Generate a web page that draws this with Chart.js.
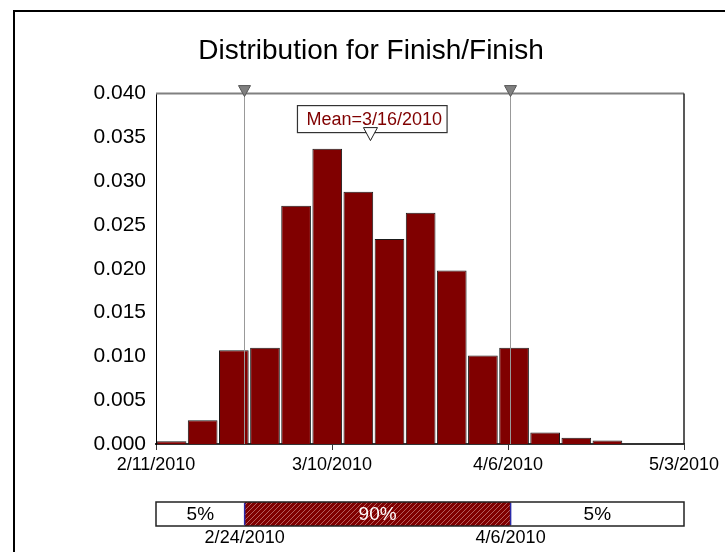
<!DOCTYPE html>
<html>
<head>
<meta charset="utf-8">
<script src="https://cdn.jsdelivr.net/npm/chart.js@4"></script>
<style>
  html, body { margin: 0; padding: 0; background: #fff; overflow: hidden; }
  #wrap { position: relative; width: 725px; height: 552px; overflow: hidden; }
  #frame { position: absolute; left: 13px; top: 10px; width: 800px; height: 600px;
           border-left: 2px solid #000; border-top: 2px solid #000; }
  #myChart { position: absolute; left: 0; top: 0; }
</style>
</head>
<body>
<div id="wrap">
  <div id="frame"></div>
  <canvas id="myChart" width="725" height="552"></canvas>
</div>
<script>
// x values are days after 2/11/2010
let binCenters = [2.39, 7.16, 11.94, 16.72, 21.49, 26.27, 31.04, 35.82, 40.60, 45.37, 50.15, 54.93, 59.70, 64.48, 69.25];
let density = [0.0003, 0.0027, 0.0107, 0.0110, 0.0272, 0.0337, 0.0288, 0.0234, 0.0264, 0.0198, 0.0101, 0.0110, 0.0013, 0.0007, 0.0004];
let xTickLabels = ['2/11/2010', '3/10/2010', '4/6/2010', '5/3/2010'];
let markerDays = [13.6, 54.4];
let markerLabels = ['2/24/2010', '4/6/2010'];
let bandLabels = ['5%', '90%', '5%'];
let meanDay = 32.9;
let meanLabel = 'Mean=3/16/2010';

let FONT = "'Liberation Sans', Arial, sans-serif";
Chart.defaults.font.family = FONT;
Chart.defaults.color = '#000';

// hatch for the 90% band
function hatch() {
    let c = document.createElement('canvas');
    c.width = 5; c.height = 5;
    let g = c.getContext('2d');
    g.fillStyle = '#800000';
    g.fillRect(0, 0, 5, 5);
    g.strokeStyle = 'rgba(215,160,160,0.75)';
    g.lineWidth = 0.8;
    g.beginPath();
    g.moveTo(-1, 6); g.lineTo(6, -1);
    g.stroke();
    return g.createPattern(c, 'repeat');
}

function downTriangle(ctx, cx, top, w, h, fill, stroke) {
    ctx.beginPath();
    ctx.moveTo(cx - w / 2, top);
    ctx.lineTo(cx + w / 2, top);
    ctx.lineTo(cx, top + h);
    ctx.closePath();
    ctx.fillStyle = fill;
    ctx.fill();
    ctx.lineWidth = 1;
    ctx.strokeStyle = stroke;
    ctx.stroke();
}

let overlay = {
    id: 'overlay',
    afterDatasetsDraw(chart) {
        let ctx = chart.ctx;
        let a = chart.chartArea;
        let xs = chart.scales.x;
        ctx.save();

        // plot frame top and right
        ctx.strokeStyle = '#808080';
        ctx.lineWidth = 2;
        ctx.beginPath();
        ctx.moveTo(a.left, a.top);
        ctx.lineTo(a.right, a.top);
        ctx.stroke();
        ctx.strokeStyle = '#222';
        ctx.lineWidth = 1.5;
        ctx.beginPath();
        ctx.moveTo(a.right, a.top);
        ctx.lineTo(a.right, a.bottom);
        ctx.stroke();

        // percentile markers
        markerDays.forEach(function (d) {
            let px = Math.round(xs.getPixelForValue(d)) - 0.5;
            ctx.strokeStyle = '#999';
            ctx.lineWidth = 1;
            ctx.beginPath();
            ctx.moveTo(px, a.top);
            ctx.lineTo(px, a.bottom);
            ctx.stroke();
            downTriangle(ctx, px, a.top - 8, 12, 11, '#808080', '#555');
        });

        // mean label
        let mx = xs.getPixelForValue(meanDay);
        ctx.font = '18px ' + FONT;
        let tw = ctx.measureText(meanLabel).width;
        let bx = mx - 73, by = a.top + 12;
        ctx.fillStyle = '#fff';
        ctx.fillRect(bx, by, tw + 14, 27);
        ctx.strokeStyle = '#333';
        ctx.lineWidth = 1.2;
        ctx.strokeRect(bx, by, tw + 14, 27);
        ctx.fillStyle = '#800000';
        ctx.textAlign = 'left';
        ctx.textBaseline = 'middle';
        ctx.fillText(meanLabel, bx + 9, by + 14);
        downTriangle(ctx, mx, by + 22, 14, 13, '#fff', '#222');

        // percentile band below the axis
        let left = a.left, right = a.right;
        let p1 = xs.getPixelForValue(markerDays[0]);
        let p2 = xs.getPixelForValue(markerDays[1]);
        let top = 502, h = 24;
        ctx.fillStyle = '#fff';
        ctx.fillRect(left, top, right - left, h);
        ctx.fillStyle = hatch();
        ctx.fillRect(p1, top, p2 - p1, h);
        ctx.strokeStyle = '#222';
        ctx.lineWidth = 1.5;
        ctx.strokeRect(left, top, right - left, h);
        ctx.strokeStyle = '#2a2aa8';
        ctx.lineWidth = 1.5;
        [p1, p2].forEach(function (p) {
            ctx.beginPath();
            ctx.moveTo(p, top + 1);
            ctx.lineTo(p, top + h - 1);
            ctx.stroke();
        });

        ctx.textAlign = 'center';
        ctx.textBaseline = 'middle';
        ctx.font = '19px ' + FONT;
        let mids = [(left + p1) / 2, (p1 + p2) / 2, (p2 + right) / 2];
        bandLabels.forEach(function (t, i) {
            ctx.fillStyle = i === 1 ? '#fff' : '#000';
            ctx.fillText(t, mids[i], top + h / 2 + 1);
        });
        ctx.fillStyle = '#000';
        ctx.font = '18px ' + FONT;
        ctx.fillText(markerLabels[0], p1, top + h + 12);
        ctx.fillText(markerLabels[1], p2, top + h + 12);

        ctx.restore();
    }
};

let histCtx = document.getElementById('myChart').getContext('2d');

let chart1 = new Chart(histCtx, {
    type: 'bar',
    data: {
        datasets: [{
            data: binCenters.map(function (c, i) { return { x: c, y: density[i] }; }),
            backgroundColor: '#800000',
            borderColor: '#1a1a1a',
            borderWidth: 1,
            barPercentage: 0.955,
            categoryPercentage: 1
        }]
    },
    options: {
        responsive: false,
        animation: false,
        events: [],
        layout: { padding: { left: 58, right: 41, top: 20, bottom: 78 } },
        plugins: {
            legend: { display: false },
            tooltip: { enabled: false },
            title: {
                display: true,
                text: 'Distribution for Finish/Finish',
                color: '#000',
                font: { size: 28, weight: 'normal' },
                padding: { top: 14, bottom: 26 }
            }
        },
        scales: {
            x: {
                type: 'linear',
                min: 0,
                max: 81,
                offset: false,
                afterFit: function (axis) { axis.height = 30; },
                grid: { display: true, offset: false, drawOnChartArea: false, drawTicks: true, tickLength: 6, color: '#333' },
                border: { display: true, color: '#333', width: 2 },
                ticks: {
                    stepSize: 27,
                    autoSkip: false,
                    maxRotation: 0,
                    padding: 4,
                    color: '#000',
                    font: { size: 18 },
                    callback: function (v) { return xTickLabels[Math.round(v / 27)]; }
                }
            },
            y: {
                min: 0,
                max: 0.04,
                afterFit: function (axis) { axis.width = 98; },
                grid: { display: false, drawTicks: false },
                border: { display: true, color: '#000', width: 1 },
                ticks: {
                    stepSize: 0.005,
                    padding: 10,
                    color: '#000',
                    font: { size: 21 },
                    callback: function (v) { return v.toFixed(3); }
                }
            }
        }
    },
    plugins: [overlay]
});
</script>
</body>
</html>
